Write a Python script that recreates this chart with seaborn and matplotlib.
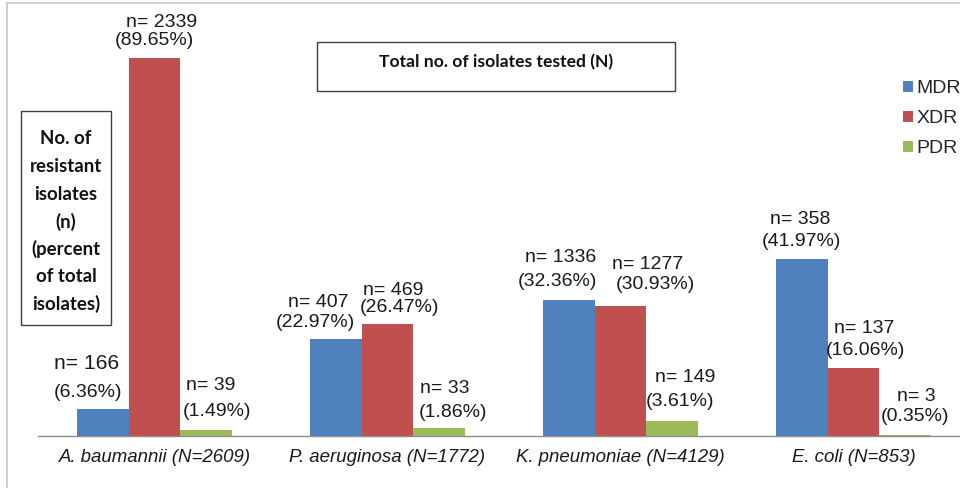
import matplotlib
matplotlib.use("Agg")
import matplotlib.pyplot as plt
from matplotlib.patches import Rectangle, Patch
import seaborn as sns
import pandas as pd

# ---- data ----
organisms = ["A. baumannii (N=2609)", "P. aeruginosa (N=1772)",
             "K. pneumoniae (N=4129)", "E. coli (N=853)"]
resistance = ["MDR", "XDR", "PDR"]
mdr_n = [166, 407, 1336, 358]
xdr_n = [2339, 469, 1277, 137]
pdr_n = [39, 33, 149, 3]
mdr_pct = [6.36, 22.97, 32.36, 41.97]
xdr_pct = [89.65, 26.47, 30.93, 16.06]
pdr_pct = [1.49, 1.86, 3.61, 0.35]
pct_labels = {
    "MDR": ["(6.36%)", "(22.97%)", "(32.36%)", "(41.97%)"],
    "XDR": ["(89.65%)", "(26.47%)", "(30.93%)", "(16.06%)"],
    "PDR": ["(1.49%)", "(1.86%)", "(3.61%)", "(0.35%)"],
}
colors = ["#4F81BD", "#C0504D", "#9BBB59"]

rows = []
for org, a, b, c, pa, pb, pc in zip(organisms, mdr_n, xdr_n, pdr_n, mdr_pct, xdr_pct, pdr_pct):
    rows.append((org, "MDR", a, pa))
    rows.append((org, "XDR", b, pb))
    rows.append((org, "PDR", c, pc))
df = pd.DataFrame(rows, columns=["organism", "type", "n", "pct"])

# label offsets in pixels (dx, dy) for the "n=" line and the "(%)" line
n_off = {
    "MDR": [(-16, 46), (-18, 37), (-8, 42), (-2, 40)],
    "XDR": [(7, 36), (6, 34), (27, 41), (11, 40)],
    "PDR": [(5, 44), (6, 40), (13, 43), (11, 38)],
}
p_off = {
    "MDR": [(-15, 17), (-20, 17), (-11, 18), (0, 18)],
    "XDR": [(0, 18), (12, 17), (35, 21), (12, 18)],
    "PDR": [(11, 18), (14, 16), (8, 19), (10, 18)],
}

W, H = 960, 488
sns.set_theme(style="white")
plt.rcParams["font.family"] = ["Liberation Sans", "DejaVu Sans"]
fig = plt.figure(figsize=(W / 100, H / 100), dpi=100)

def fx(x):
    return x / W

def fy(y):
    return 1 - y / H

base_y = 436
top_y = base_y - 421.6
ax = fig.add_axes([fx(38), fy(base_y), (970 - 38) / W, (base_y - top_y) / H])

sns.barplot(data=df, x="organism", y="pct", hue="type", order=organisms,
            hue_order=resistance, palette=colors, width=0.665, gap=0,
            saturation=1, ax=ax, legend=False, errorbar=None, linewidth=0)
ax.set_xlim(-0.5, 3.5)
ax.set_ylim(0, 100)
ax.set_xlabel("")
ax.set_ylabel("")
ax.set_yticks([])
for s in ["top", "right", "left"]:
    ax.spines[s].set_visible(False)
ax.spines["bottom"].set_color("#8c8c8c")
ax.spines["bottom"].set_linewidth(1.0)
ax.set_xticks([0, 1, 2, 3])
ax.set_xticklabels(organisms, fontsize=13.4, style="italic", color="#1a1a1a")
ax.tick_params(axis="x", length=0, pad=9)
# boundary tick marks
ax.set_xticks([-0.5, 0.5, 1.5, 2.5, 3.5], minor=True)
ax.tick_params(axis="x", which="minor", length=5, color="#8c8c8c", width=1, direction="out")

# labels
bar_w = 0.665 / 3
for j, t in enumerate(resistance):
    ns = [mdr_n, xdr_n, pdr_n][j]
    ps = [mdr_pct, xdr_pct, pdr_pct][j]
    for i in range(len(organisms)):
        xc = i + (j - 1) * bar_w
        yv = ps[i]
        fs = 15.2 if (t == "MDR" and i == 0) else 14
        dx, dy = n_off[t][i]
        ax.annotate(f"n= {ns[i]}", xy=(xc, yv), xytext=(dx, dy),
                    textcoords="offset pixels", ha="center", va="center",
                    fontsize=fs, color="#1a1a1a")
        dx, dy = p_off[t][i]
        ax.annotate(pct_labels[t][i], xy=(xc, yv), xytext=(dx, dy),
                    textcoords="offset pixels", ha="center", va="center",
                    fontsize=14, color="#1a1a1a")

# legend
handles = [Patch(facecolor=c, edgecolor="none") for c in colors]
fig.legend(handles, resistance, loc="upper left",
           bbox_to_anchor=(fx(903), fy(80)), frameon=False, fontsize=14,
           handlelength=0.5, handleheight=0.5, handletextpad=0.2,
           labelspacing=0.68, borderpad=0, borderaxespad=0)

# outer frame
fig.patches.append(Rectangle((fx(7), fy(H + 10)), 2, (H + 10 - 3) / H,
                             transform=fig.transFigure, fill=False,
                             edgecolor="#c8c8c8", linewidth=1.2))

# text boxes
fig.patches.append(Rectangle((fx(317), fy(91)), (675 - 317) / W, (91 - 42) / H,
                             transform=fig.transFigure, fill=False,
                             edgecolor="#404040", linewidth=1.0))
fig.text(fx(496), fy(62), "Total no. of isolates tested (N)", ha="center",
         va="center", fontsize=12.6, fontweight="bold", family=["Lato", "DejaVu Sans"],
         color="#111111")

fig.patches.append(Rectangle((fx(21), fy(325)), (111 - 21) / W, (325 - 111) / H,
                             transform=fig.transFigure, fill=False,
                             edgecolor="#404040", linewidth=1.0))
left_lines = ["No. of", "resistant", "isolates", "(n)", "(percent", "of total", "isolates)"]
for k, line in enumerate(left_lines):
    fig.text(fx(66), fy(139 + k * 27.5), line, ha="center", va="center",
             fontsize=13.4, fontweight="bold", family=["Lato", "DejaVu Sans"],
             color="#111111")

fig.savefig("out.png", dpi=100)
